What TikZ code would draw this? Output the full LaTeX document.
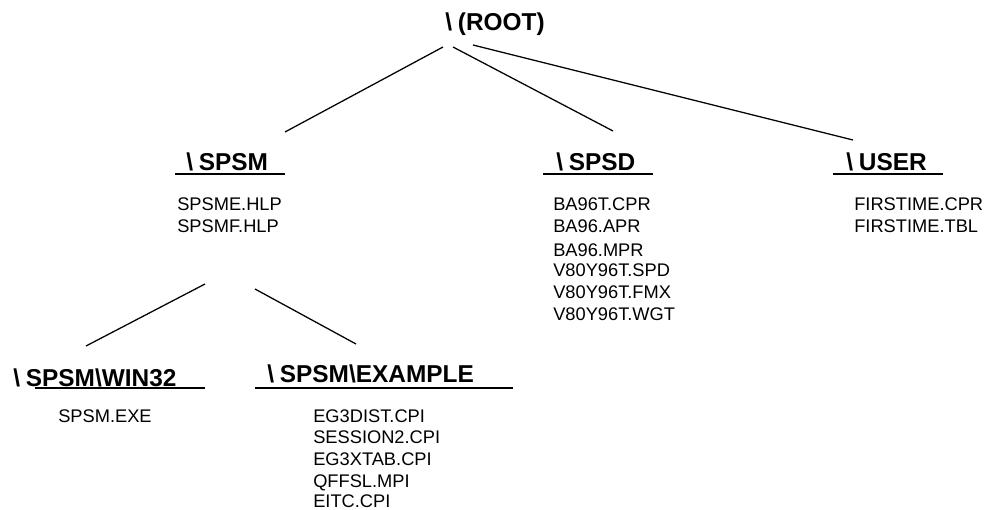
\documentclass[tikz,border=0pt]{standalone}
\usepackage{fontspec}
\setmainfont{Liberation Sans}
\newcommand{\bs}{\textbackslash\hspace{0.24em}}
\tikzset{
  px/.style={x=0.75pt,y=-0.75pt},
  dirlabel/.style={font=\fontsize{18.3}{20}\selectfont\bfseries,anchor=base west,inner sep=0pt},
  filelabel/.style={font=\fontsize{13.7}{15}\selectfont,anchor=base west,inner sep=0pt},
  conn/.style={line width=0.95pt,black},
  rule/.style={line width=1.1pt,black}
}
\begin{document}
\begin{tikzpicture}[px]
\useasboundingbox (0,0) rectangle (985,510);
\node[dirlabel] (root) at (445,31) {\bs(ROOT)};
\coordinate (r1) at (443,47);\coordinate (c1) at (285,132);
\coordinate (r2) at (453,47);\coordinate (c2) at (613,131);
\coordinate (r3) at (473,45);\coordinate (c3) at (853,140);
\draw[conn] (r1)--(c1);\draw[conn] (r2)--(c2);\draw[conn] (r3)--(c3);
\node[dirlabel] (spsm) at (186,170) {\bs SPSM};
\coordinate (a1) at (175,174);\coordinate (a2) at (285,174);\draw[rule] (a1)--(a2);
\node[dirlabel] (spsd) at (556,170) {\bs SPSD};
\coordinate (b1) at (543,174);\coordinate (b2) at (653,174);\draw[rule] (b1)--(b2);
\node[dirlabel] (user) at (846,170) {\bs USER};
\coordinate (d1) at (833,174);\coordinate (d2) at (943,174);\draw[rule] (d1)--(d2);
\node[filelabel] (f1) at (177,210) {SPSME.HLP};
\node[filelabel] (f2) at (177,232) {SPSMF.HLP};
\node[filelabel] (f3) at (553,210) {BA96T.CPR};
\node[filelabel] (f4) at (553,232) {BA96.APR};
\node[filelabel] (f5) at (553,256) {BA96.MPR};
\node[filelabel] (f6) at (553,276) {V80Y96T.SPD};
\node[filelabel] (f7) at (553,298) {V80Y96T.FMX};
\node[filelabel] (f8) at (553,320) {V80Y96T.WGT};
\node[filelabel] (f9) at (854,210) {FIRSTIME.CPR};
\node[filelabel] (f10) at (854,232) {FIRSTIME.TBL};
\coordinate (s1) at (205,284);\coordinate (w1) at (86,346);
\coordinate (s2) at (255,289);\coordinate (e1) at (356,344);
\draw[conn] (s1)--(w1);\draw[conn] (s2)--(e1);
\node[dirlabel] (win) at (13,386) {\bs SPSM\textbackslash WIN32};
\coordinate (g1) at (35,388);\coordinate (g2) at (205,388);\draw[rule] (g1)--(g2);
\node[dirlabel] (ex) at (267,382) {\bs SPSM\textbackslash EXAMPLE};
\coordinate (h1) at (255,388);\coordinate (h2) at (513,388);\draw[rule] (h1)--(h2);
\node[filelabel] (f11) at (58,422) {SPSM.EXE};
\node[filelabel] (f12) at (313,422) {EG3DIST.CPI};
\node[filelabel] (f13) at (313,443) {SESSION2.CPI};
\node[filelabel] (f14) at (313,465) {EG3XTAB.CPI};
\node[filelabel] (f15) at (313,487) {QFFSL.MPI};
\node[filelabel] (f16) at (313,507.5) {EITC.CPI};
\end{tikzpicture}
\end{document}
